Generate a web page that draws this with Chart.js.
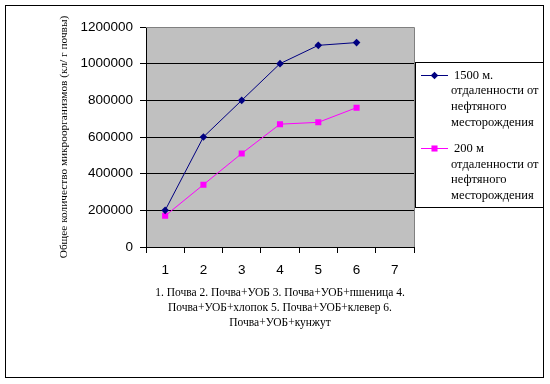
<!DOCTYPE html>
<html>
<head>
<meta charset="utf-8">
<script src="https://cdn.jsdelivr.net/npm/chart.js@4.4.0/dist/chart.umd.min.js"></script>
<style>
  body { margin: 0; background: #fff; }
  canvas { display: block; }
</style>
</head>
<body>
<canvas id="micro_chart" width="550" height="384"></canvas>
<script>
const categories = ['1', '2', '3', '4', '5', '6', '7'];
const series1Name = ['1500 м.', 'отдаленности от', 'нефтяного', 'месторождения'];
const series1 = [200000, 600000, 800000, 1000000, 1100000, 1115000, null];
const series2Name = ['200 м', 'отдаленности от', 'нефтяного', 'месторождения'];
const series2 = [170000, 340000, 510000, 670000, 680000, 760000, null];
const yTitle = 'Общее количество микроорганизмов (кл/ г почвы)';
const xTitle = [
    '1. Почва 2. Почва+УОБ 3. Почва+УОБ+пшеница 4.',
    'Почва+УОБ+хлопок 5. Почва+УОБ+клевер 6.',
    'Почва+УОБ+кунжут'
];

const serif = "'Times New Roman', 'Liberation Serif', serif";
const sans = "Arial, 'Liberation Sans', sans-serif";

// gray plot area, outer frame and the multi-line legend box
const excelLook = {
    id: 'excelLook',
    beforeDraw(chart) {
        const {ctx, chartArea: a} = chart;
        ctx.save();
        ctx.fillStyle = '#c0c0c0';
        ctx.fillRect(a.left, a.top, a.right - a.left, a.bottom - a.top);
        ctx.restore();
    },
    beforeDatasetsDraw(chart) {
        const {ctx, chartArea: a} = chart;
        ctx.save();
        ctx.strokeStyle = '#808080';
        ctx.lineWidth = 1;
        ctx.beginPath();
        ctx.moveTo(a.left, a.top + 0.5);
        ctx.lineTo(a.right + 0.5, a.top + 0.5);
        ctx.lineTo(a.right + 0.5, a.bottom);
        ctx.stroke();
        ctx.restore();
    },
    afterDraw(chart) {
        const ctx = chart.ctx;
        ctx.save();
        // outer frame
        ctx.strokeStyle = '#000';
        ctx.lineWidth = 1;
        ctx.strokeRect(5.5, 5.5, 538, 372);
        // legend box
        ctx.fillStyle = '#fff';
        ctx.fillRect(415, 62, 128, 145);
        ctx.strokeRect(415.5, 62.5, 128, 145);

        ctx.font = '12.5px ' + serif;
        ctx.textBaseline = 'alphabetic';
        ctx.textAlign = 'left';
        const names = [series1Name, series2Name];
        chart.data.datasets.forEach((ds, i) => {
            const base = 78.5 + i * 73.5;
            const midY = Math.round(base - 4) + 0.5;
            ctx.strokeStyle = ds.borderColor;
            ctx.beginPath();
            ctx.moveTo(421, midY);
            ctx.lineTo(448, midY);
            ctx.stroke();
            ctx.fillStyle = ds.pointBackgroundColor;
            Chart.helpers.drawPoint(ctx, {
                pointStyle: ds.pointStyle,
                radius: ds.pointRadius,
                rotation: 0,
                borderWidth: 0
            }, 434.5, midY);
            ctx.fillStyle = '#000';
            names[i].forEach((line, j) => {
                ctx.fillText(line, j === 0 ? 454 : 451, base + j * 15.7);
            });
        });
        ctx.restore();
    }
};

new Chart(document.getElementById('micro_chart'), {
    type: 'line',
    data: {
        labels: categories,
        datasets: [{
            label: series1Name.join(' '),
            data: series1,
            borderColor: '#000080',
            backgroundColor: '#000080',
            pointBackgroundColor: '#000080',
            pointBorderColor: '#000080',
            pointStyle: 'rectRot',
            pointRadius: 3.8,
            pointBorderWidth: 0,
            borderWidth: 1,
            tension: 0
        }, {
            label: series2Name.join(' '),
            data: series2,
            borderColor: '#ff00ff',
            backgroundColor: '#ff00ff',
            pointBackgroundColor: '#ff00ff',
            pointBorderColor: '#ff00ff',
            pointStyle: 'rect',
            pointRadius: 4.3,
            pointBorderWidth: 0,
            borderWidth: 1,
            tension: 0
        }]
    },
    options: {
        responsive: false,
        animation: false,
        layout: {
            padding: {top: 27, right: 136, left: 0, bottom: 0}
        },
        plugins: {
            legend: {display: false},
            tooltip: {enabled: false}
        },
        scales: {
            x: {
                offset: true,
                afterFit(scale) { scale.height = 137; },
                grid: {
                    offset: true,
                    drawOnChartArea: false,
                    color: '#000',
                    tickLength: 6
                },
                border: {color: '#000', width: 1},
                ticks: {
                    color: '#000',
                    padding: 9,
                    font: {family: sans, size: 13.5}
                },
                title: {
                    display: true,
                    text: xTitle,
                    color: '#000',
                    font: {family: serif, size: 11.5, lineHeight: '15px'},
                    padding: {top: 0, bottom: 53.5}
                }
            },
            y: {
                min: 0,
                max: 1200000,
                afterFit(scale) { scale.width = 146; },
                grid: {
                    color: '#000',
                    tickLength: 6
                },
                border: {color: '#000', width: 1},
                ticks: {
                    stepSize: 200000,
                    color: '#000',
                    padding: 7,
                    font: {family: sans, size: 13.5},
                    callback: value => String(value)
                },
                title: {
                    display: true,
                    text: yTitle,
                    color: '#000',
                    font: {family: serif, size: 11.3},
                    padding: {top: 57.4, bottom: 0}
                }
            }
        }
    },
    plugins: [excelLook]
});
</script>
</body>
</html>
